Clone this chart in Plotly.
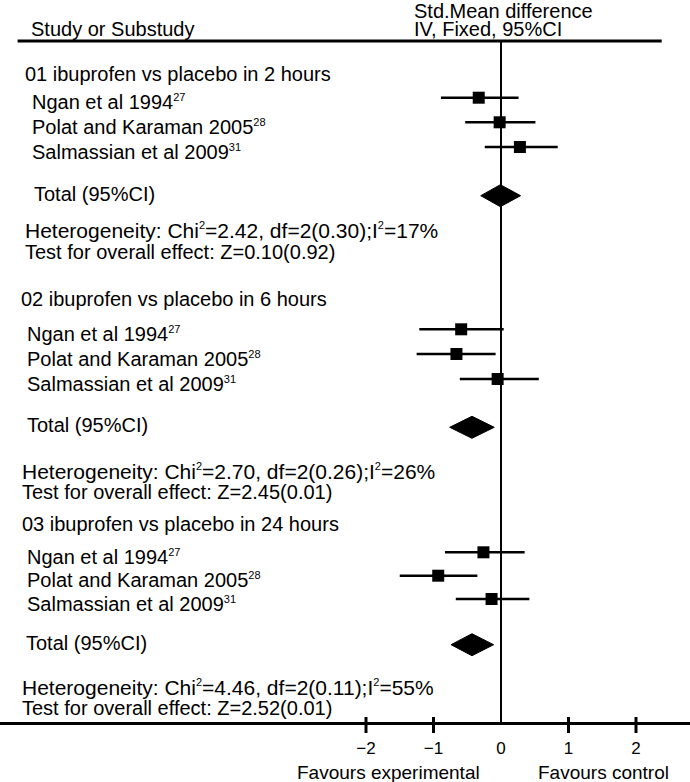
import plotly.graph_objects as go

W, H = 690, 782

# ---------------- data ----------------
group_titles = [
    "01 ibuprofen vs placebo in 2 hours",
    "02 ibuprofen vs placebo in 6 hours",
    "03 ibuprofen vs placebo in 24 hours",
]
studies = ["Ngan et al 1994", "Polat and Karaman 2005", "Salmassian et al 2009"]
study_refs = ["27", "28", "31"]

smd_2h = [-0.33, -0.02, 0.28]
lo_2h = [-0.89, -0.53, -0.24]
hi_2h = [0.26, 0.51, 0.84]

smd_6h = [-0.59, -0.66, -0.05]
lo_6h = [-1.21, -1.25, -0.61]
hi_6h = [0.04, -0.08, 0.56]

smd_24h = [-0.26, -0.93, -0.14]
lo_24h = [-0.83, -1.50, -0.67]
hi_24h = [0.35, -0.35, 0.42]

pooled_est = [-0.01, -0.43, -0.43]
pooled_lo = [-0.30, -0.76, -0.74]
pooled_hi = [0.29, -0.10, -0.11]

chi2 = ["2.42", "2.70", "4.46"]
het_df = ["2", "2", "2"]
het_p = ["0.30", "0.26", "0.11"]
i2 = ["17", "26", "55"]
z_val = ["0.10", "2.45", "2.52"]
z_p = ["0.92", "0.01", "0.01"]

tick_vals = [-2, -1, 0, 1, 2]
header_left = "Study or Substudy"
header_right = ["Std.Mean difference", "IV, Fixed, 95%CI"]
favours = ["Favours experimental", "Favours control"]

# ---------------- layout (pixel positions, top-down) ----------------
X0PX, PXU = 501.0, 67.5          # pixel of zero, pixels per unit
AXIS_Y = 723
TOP_RULE_Y = 41
FONT = "Liberation Sans, Arial, Helvetica, sans-serif"
BODY = 20

groups = [
    dict(title_y=73.7, title_x=23, rows=[97.7, 122.3, 147], row_x=30,
         total_y=195.7, total_x=31.7, het_y=230.5, test_y=251.5, het_x=23.3),
    dict(title_y=299, title_x=19.3, rows=[329.3, 354, 379], row_x=25,
         total_y=427.3, total_x=25, het_y=471, test_y=492, het_x=20),
    dict(title_y=524, title_x=20, rows=[552.3, 575.7, 599], row_x=25,
         total_y=644.7, total_x=24, het_y=687, test_y=708, het_x=20),
]
series = [(smd_2h, lo_2h, hi_2h), (smd_6h, lo_6h, hi_6h), (smd_24h, lo_24h, hi_24h)]

fig = go.Figure()
ann = []
shapes = []


def txt(x_px, y_px, text, size=BODY, anchor="left"):
    ann.append(dict(x=x_px / W, xref="paper", y=y_px, yref="y", text=text,
                    showarrow=False, xanchor=anchor, yanchor="middle",
                    font=dict(family=FONT, size=size, color="black")))


def sup(s):
    return "<sup><span style='font-size:11px'>" + s + "</span></sup>"


for gi, g in enumerate(groups):
    m, lo, hi = series[gi]
    fig.add_trace(go.Scatter(
        x=m, y=g["rows"], mode="markers",
        marker=dict(symbol="square", size=12, color="black"),
        error_x=dict(type="data", symmetric=False,
                     array=[h - v for h, v in zip(hi, m)],
                     arrayminus=[v - l for v, l in zip(m, lo)],
                     width=0, thickness=2.5, color="black"),
        hoverinfo="skip"))
    # pooled diamond
    dy = 11
    ty = g["total_y"]
    fig.add_trace(go.Scatter(
        x=[pooled_lo[gi], pooled_est[gi], pooled_hi[gi], pooled_est[gi], pooled_lo[gi]],
        y=[ty, ty - dy, ty, ty + dy, ty],
        mode="lines", fill="toself", fillcolor="black",
        line=dict(color="black", width=1), hoverinfo="skip"))

    txt(g["title_x"], g["title_y"], group_titles[gi])
    for si, ry in enumerate(g["rows"]):
        txt(g["row_x"], ry + 4.5, studies[si] + sup(study_refs[si]))
    txt(g["total_x"], ty - 2, "Total (95%CI)")
    txt(g["het_x"], g["het_y"],
        f"Heterogeneity: Chi{sup('2')}={chi2[gi]}, df={het_df[gi]}({het_p[gi]});I{sup('2')}={i2[gi]}%",
        size=21)
    txt(g["het_x"], g["test_y"], f"Test for overall effect: Z={z_val[gi]}({z_p[gi]})")

# headers
txt(28.6, 29, header_left, size=20)
txt(411.7, 10.5, header_right[0], size=20)
txt(411.7, 29, header_right[1], size=20)
# favours labels
txt(388.5, 772.7, favours[0], size=19, anchor="center")
txt(603, 772.7, favours[1], size=19, anchor="center")

# top rule
shapes.append(dict(type="line", xref="paper", yref="y", x0=17.6 / W, x1=661.7 / W,
                   y0=TOP_RULE_Y, y1=TOP_RULE_Y, line=dict(color="black", width=3)))
# line of no effect
shapes.append(dict(type="line", xref="x", yref="y", x0=0, x1=0,
                   y0=TOP_RULE_Y, y1=AXIS_Y, line=dict(color="black", width=2)))
# tick marks crossing the axis (none at zero)
for t in tick_vals:
    if t == 0:
        continue
    shapes.append(dict(type="line", xref="x", yref="y", x0=t, x1=t,
                       y0=AXIS_Y - 6, y1=AXIS_Y + 10, line=dict(color="black", width=3)))

fig.update_layout(
    width=W, height=H,
    margin=dict(l=0, r=0, t=0, b=0),
    paper_bgcolor="white", plot_bgcolor="white",
    showlegend=False,
    annotations=ann, shapes=shapes,
    xaxis=dict(range=[(0 - X0PX) / PXU, (W - X0PX) / PXU],
               anchor="free", position=(H - AXIS_Y) / H,
               showline=True, linecolor="black", linewidth=3,
               ticks="", tickvals=tick_vals,
               tickfont=dict(family=FONT, size=17, color="black"),
               ticklabelstandoff=9,
               showgrid=False, zeroline=False, fixedrange=True),
    yaxis=dict(range=[H, 0], domain=[0, 1], visible=False,
               showgrid=False, zeroline=False, fixedrange=True),
)

fig.write_html(
    "out.html",
    config={"displayModeBar": False},
    post_script="document.body.style.margin='0';document.body.style.overflow='hidden';",
)
